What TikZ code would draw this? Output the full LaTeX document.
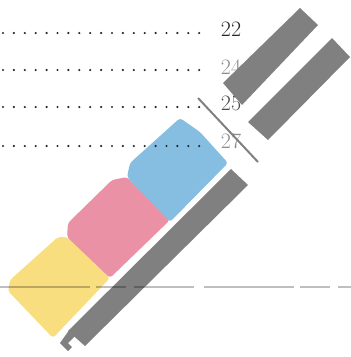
\documentclass[tikz,border=0pt]{standalone}
\usepackage{tikz}
\usetikzlibrary{arrows.meta}
\definecolor{blueblk}{RGB}{133,190,224}
\definecolor{pinkblk}{RGB}{234,145,166}
\definecolor{yellowblk}{RGB}{249,222,128}
\definecolor{bargray}{RGB}{128,128,128}
\tikzset{
  dotrow/.style={line width=2.4pt, dash pattern=on 0pt off 10.9pt, line cap=round, black!85, shorten >=12pt},
  lvl/.style={inner sep=0pt, font=\fontsize{22}{24}\selectfont},
  blk/.style={rounded corners=3pt, draw=none},
  bar/.style={fill=bargray, draw=none}
}
\begin{document}
\begin{tikzpicture}[x=1pt,y=-1pt,line width=1pt]
        \useasboundingbox (0,0) rectangle (351,357);
        % coloured blocks
        \fill[blk, yellowblk] (58,237)--(67,237)--(110,278)--(53,338)--(8,291)--(10,280)--cycle;
        \fill[blk, pinkblk] (112,180)--(127,177)--(170,220)--(110,278)--(67,237)--(68,223)--cycle;
        \fill[blk, blueblk] (180,118)--(200,132)--(228,163)--(170,222)--(127,177)--(130,163)--cycle;
        % dotted rows and levels
        \node[lvl, black!85] (l22) at (231,29) {22};
        \node[lvl, black!45] (l24) at (231,67) {24};
        \node[lvl, black!70] (l25) at (231,103) {25};
        \node[lvl, black!45] (l27) at (231,141) {27};
        \coordinate (s22) at (3,33);
        \coordinate (s24) at (3,70);
        \coordinate (s25) at (3,107);
        \coordinate (s27) at (3,146);
        \draw[dotrow] (s22)--(s22-|l22.west);
        \draw[dotrow] (s24)--(s24-|l24.west);
        \draw[dotrow] (s25)--(s25-|l25.west);
        \draw[dotrow] (s27)--(s27-|l27.west);
        % gray bars
        \fill[bar] (300,8)--(318,25)--(242,105)--(223,83)--cycle;
        \fill[bar] (332,38)--(350,57)--(268,140)--(248,122)--cycle;
        \fill[bar] (231,169)--(248,185)--(85,346)--(68,331)--cycle;
        \fill[bar] (70,329)--(76,335)--(68,343)--(72,347)--(68,351)--(60,343)--cycle;
        \draw[bargray, line width=2pt] (198,98)--(258,162);
        % faint base line
        \draw[black, opacity=0.25, line width=1.2pt, dash pattern=on 90pt off 6pt on 30pt off 8pt on 60pt off 10pt] (0,287)--(351,287);
    \end{tikzpicture}
\end{document}
